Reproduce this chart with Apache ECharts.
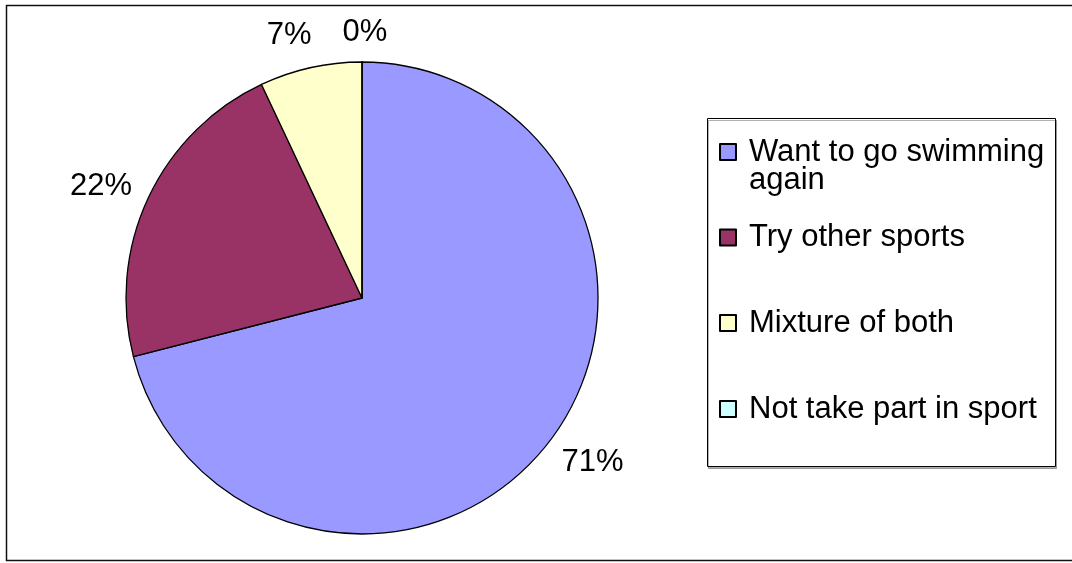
<!DOCTYPE html>
<html>
<head>
<meta charset="utf-8">
<title>Pie chart</title>
<script src="https://cdn.jsdelivr.net/npm/echarts@6/dist/echarts.min.js"></script>
<style>
  html, body { margin: 0; padding: 0; background: #fff; }
  #chart { width: 1072px; height: 563px; }
</style>
</head>
<body>
<div id="chart"></div>
<script>
// Survey answers and their shares (percent)
const categories = ['Want to go swimming again', 'Try other sports', 'Mixture of both', 'Not take part in sport'];
const shares = [71, 22, 7, 0];
const colors = ['#9999FF', '#993366', '#FFFFCC', '#CCFFFF'];

const FONT = '"Liberation Sans", Arial, sans-serif';
const CENTER = [362, 298];
const RADIUS = 236;
const LABEL_DIST = 283;

const pieData = categories.map((name, i) => ({ name: name, value: shares[i] }));
const total = shares.reduce((a, b) => a + b, 0);

// Small nudges for the percentage labels around the pie
const labelNudge = [[7, -9], [-5, 9], [-11, 14], [3, 17]];

// Percentage label placed on the slice's mid-angle, just outside the rim
function placeLabel(p) {
  const before = shares.slice(0, p.dataIndex).reduce((a, b) => a + b, 0);
  const mid = (before + shares[p.dataIndex] / 2) / total * Math.PI * 2;
  return {
    x: CENTER[0] + LABEL_DIST * Math.sin(mid) + labelNudge[p.dataIndex][0],
    y: CENTER[1] - LABEL_DIST * Math.cos(mid) + labelNudge[p.dataIndex][1],
    align: 'center',
    verticalAlign: 'middle',
    hideOverlap: false
  };
}

// One legend block per entry so the rows sit at their own heights
const legendCenters = [150.5, 237.5, 323, 409];
const legends = categories.map((name, i) => {
  const twoLine = i === 0;
  const lh = twoLine ? 28 : 34;
  return {
    orient: 'vertical',
    left: 719,
    top: legendCenters[i] - (twoLine ? lh * 1.5 : lh / 2),
    padding: 0,
    itemWidth: 16,
    itemHeight: 16,
    icon: 'rect',
    selectedMode: false,
    data: [name],
    // the blank first line keeps the marker level with "Want to go swimming"
    formatter: n => n === 'Want to go swimming again' ? '\nWant to go swimming\nagain' : n,
    textStyle: { fontFamily: FONT, fontSize: 31, color: '#000', lineHeight: lh, padding: [0, 0, 0, 8] }
  };
});

const chart = echarts.init(document.getElementById('chart'), null, { renderer: 'canvas' });
chart.setOption({
  backgroundColor: '#fff',
  animation: false,
  color: colors,
  legend: legends,
  graphic: [
    {
      type: 'rect', z: -1,
      shape: { x: 6.5, y: 5.5, width: 1080, height: 555 },
      style: { fill: '#fff', stroke: '#111', lineWidth: 1.5 }
    },
    {
      type: 'rect', z: 0,
      shape: { x: 707.5, y: 118.5, width: 348, height: 348 },
      style: { fill: '#fff', stroke: '#000', lineWidth: 1, shadowColor: 'rgba(0,0,0,0.3)', shadowOffsetX: 1, shadowOffsetY: 2, shadowBlur: 0 }
    }
  ],
  series: [
    {
      name: 'answers',
      type: 'pie',
      center: CENTER,
      radius: RADIUS,
      startAngle: 90,
      clockwise: true,
      avoidLabelOverlap: false,
      emphasis: { disabled: true },
      itemStyle: { borderColor: '#000', borderWidth: 1.3 },
      labelLine: { show: false },
      label: {
        show: true,
        position: 'outside',
        formatter: '{c}%',
        fontFamily: FONT,
        fontSize: 31,
        color: '#000'
      },
      labelLayout: placeLabel,
      data: pieData
    }
  ]
});
</script>
</body>
</html>
